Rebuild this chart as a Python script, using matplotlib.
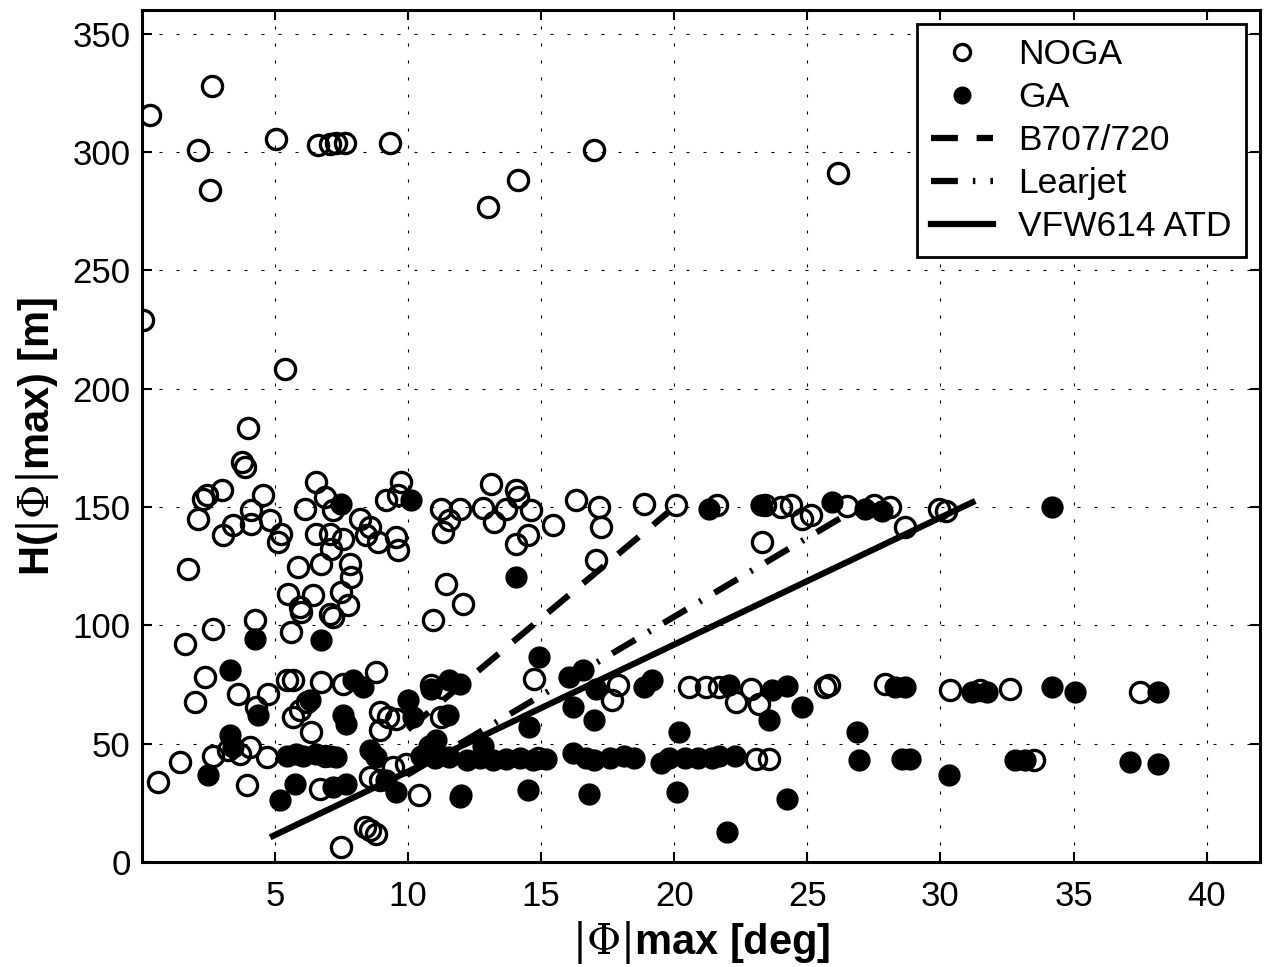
import matplotlib
matplotlib.use("Agg")
import matplotlib.pyplot as plt

plt.rcParams['font.family'] = ['Liberation Sans', 'DejaVu Sans']
plt.rcParams['mathtext.fontset'] = 'dejavuserif'

# NOGA (open circles)
noga_x = [0.05, 0.31, 2.64, 2.11, 2.56, 5.04, 6.62, 7.06, 7.29, 7.62, 9.31, 12.99, 14.15, 16.97, 26.15,
          5.37, 3.99, 3.75, 3.87,
          2.31, 2.44, 3.0, 2.12, 1.75, 4.12, 4.56, 3.06, 3.44, 4.12, 4.81, 5.25, 5.12, 6.12, 6.56, 6.87,
          7.18, 6.56, 7.06, 7.56, 7.12, 8.19, 8.56, 8.44, 8.87, 9.56, 9.62, 9.75, 9.19, 9.62, 11.25, 11.94,
          11.56, 11.31, 11.44, 12.06, 10.93, 5.87, 6.75, 7.81, 7.87, 5.5, 5.94, 6.0, 6.44, 7.5, 7.75, 7.06,
          7.18, 4.25, 5.62, 2.69, 1.62,
          13.12, 14.06, 14.12, 12.8, 13.69, 14.62, 13.25, 15.43, 14.06, 14.5, 16.31, 17.18, 17.25, 17.06,
          18.87, 20.06, 21.62, 23.4, 24.0, 24.37, 24.81, 25.12, 23.31, 26.5, 27.5, 28.1, 28.68, 29.93, 30.2,
          2.37, 2.0, 3.62, 4.75, 4.31, 5.44, 5.69, 5.94, 5.69, 6.19, 6.75, 7.56, 8.81, 8.94, 9.25, 9.56,
          8.94, 11.25, 10.87, 11.3, 14.75, 17.87, 17.68, 20.56, 21.18, 21.68, 22.31, 22.87, 23.18, 25.68,
          25.81, 27.93, 30.37, 31.5, 32.62, 37.5,
          2.69, 3.25, 3.69, 4.06, 1.44, 0.62, 3.94, 4.69, 6.37, 6.69, 7.5, 8.37, 8.56, 8.81, 8.56, 8.94,
          10.43, 9.44, 9.94, 23.06, 23.56, 33.5, 14.9, 6.9]
noga_y = [229, 315.5, 327.7, 301, 283.8, 305.7, 302.8, 303.2, 303.6, 303.6, 304, 276.6, 288, 300.8, 291,
          208.5, 183.2, 169, 166.9,
          153.5, 154.9, 157, 145.1, 124, 148.6, 155, 138, 142.3, 143, 144.4, 138.7, 135.2, 149.3, 160.5, 154.2,
          148.6, 138.7, 138.7, 136.6, 132.4, 145.1, 141.5, 138, 135.2, 137.3, 131.7, 160.5, 152.8, 154.9, 149.3, 149.3,
          144.4, 139.4, 117.6, 109.2, 102.1, 124.6, 126, 126, 120.4, 113.4, 107.7, 105.6, 112.7, 114.1, 108.5, 104.9,
          103.5, 102.1, 97.2, 98.6, 92,
          159.9, 157, 154.2, 149.4, 149.3, 148.6, 143.6, 142.2, 134.5, 138, 152.8, 150, 141.5, 127.5,
          151.4, 150.7, 150.7, 151, 150, 150.7, 145, 146.6, 135.3, 150.5, 150.7, 150, 141.5, 149.3, 148.3,
          78.2, 67.6, 71.1, 71.1, 65.5, 76.8, 76.8, 64.1, 61.3, 67.6, 76, 75.4, 80.3, 63.4, 61.3, 60.6,
          55.7, 61.3, 75, 73.5, 77.5, 74.7, 68.3, 74, 74, 74, 67.6, 73.3, 66.9, 74,
          74.7, 75.4, 72.6, 72.5, 73.3, 71.8,
          45, 47.2, 45.8, 48.6, 42.2, 33.8, 32.4, 44.4, 54.9, 31, 6.3, 14.8, 13.4, 12, 35.9, 34.5,
          28.2, 40.1, 41.6, 43.7, 43.7, 43, 44, 45]

# GA (filled circles)
ga_x = [7.5, 10.12, 14.06, 21.31, 23.25, 25.93, 27.18, 27.8, 34.18,
        4.25, 6.75, 3.31, 4.37, 6.31, 7.94, 8.31, 7.56, 7.69, 10.0, 10.19, 10.87, 11.56, 11.94, 11.5,
        3.31, 3.44, 2.5, 5.44, 5.81, 6.06, 6.56, 7.06, 7.31, 5.75, 5.19, 7.18, 7.69, 8.56, 8.81, 9.19,
        9.56, 11.06, 11.56, 11.94, 12.0,
        10.5, 11.0, 12.2, 12.7, 13.2, 13.7, 14.2, 14.7, 15.2, 10.8, 12.8, 16.2, 16.7, 17.0, 17.6, 18.1,
        18.5, 19.5, 19.8, 20.4, 20.9, 21.4, 21.7, 22.3,
        14.5, 16.8, 20.12, 24.25, 22.0,
        14.93, 16.06, 16.56, 17.06, 19.18, 18.87, 22.06, 23.68, 24.25, 24.81, 17.0, 23.56, 20.18, 26.87,
        14.56, 16.18, 28.31, 28.68, 26.93, 28.56, 28.87, 30.31, 31.18, 31.75, 34.18, 35.06, 38.18,
        32.81, 33.18, 37.12, 38.18]
ga_y = [151.4, 152.8, 120.4, 149.3, 150.7, 152.1, 149.3, 148.5, 149.8,
        94.4, 93.7, 81, 62, 68.3, 76.8, 74, 62, 58.5, 68.3, 61.3, 73.3, 76.8, 75.4, 62,
        53.5, 48.6, 36.6, 45, 45.5, 45, 45.5, 45, 44.5, 33.1, 26, 31.7, 33.1, 47.2, 44.4, 34.5,
        29.6, 51.4, 44.4, 27.5, 28.2,
        45, 44, 43, 44, 43, 43.5, 44, 43, 43.5, 49, 49, 46, 44, 43, 44, 45,
        44, 42, 44, 44, 44, 44, 45, 45,
        30.3, 28.9, 29.6, 26.8, 12.7,
        86.6, 78.2, 81, 73.3, 76.8, 74, 74.7, 72.5, 74.3, 65.5, 60, 60, 54.9, 54.9,
        57, 65.5, 74, 74, 43, 43.7, 43.7, 36.6, 72, 72, 74, 71.8, 71.8,
        43, 43, 42.2, 41.6]

# limit lines (|Phi|max [deg], H [m])
b707_x = [10.0, 19.8]
b707_y = [56, 148]
learjet_x = [10.0, 26.5]
learjet_y = [37, 147]
vfw614_x = [4.93, 31.2]
vfw614_y = [11, 152]

fig = plt.figure(figsize=(12.72, 9.67), dpi=100)
ax = fig.add_axes([141.7 / 1272, (967 - 862) / 967, (1260 - 141.7) / 1272, (862 - 10) / 967])

ax.plot(noga_x, noga_y, 'o', mfc='none', mec='black', mew=2.4, ms=14.5, label='NOGA', zorder=3)
ax.plot(ga_x, ga_y, 'o', mfc='black', mec='black', mew=1.0, ms=15, label='GA', zorder=3)
ax.plot(b707_x, b707_y, color='black', lw=4.5, ls=(0, (4.3, 3.0)), label='B707/720', zorder=4)
ax.plot(learjet_x, learjet_y, color='black', lw=4.5, ls=(0, (4.3, 2.4, 0.4, 2.4)),
        label='Learjet', zorder=4)
ax.plot(vfw614_x, vfw614_y, color='black', lw=4.5, ls='-', label='VFW614 ATD', zorder=4)

ax.set_xlim(0, 42)
ax.set_ylim(0, 360)
ax.set_xticks(range(5, 41, 5))
ax.set_yticks(range(0, 351, 50))
ax.grid(True, color='black', linestyle=(0, (2.7, 12.6)), linewidth=0.8)
ax.tick_params(direction='in', top=True, right=True, length=7, width=1.5, labelsize=25)
ax.tick_params(axis='x', pad=13)
ax.tick_params(axis='y', pad=8)
for s in ax.spines.values():
    s.set_linewidth(2.2)

ax.set_xlabel(r'$|\Phi|$max [deg]', fontsize=30, fontweight='bold', labelpad=4)
ax.set_ylabel(r'H($|\Phi|$max) [m]', fontsize=30, fontweight='bold', labelpad=8)

leg = ax.legend(loc='upper right', fontsize=25.5, frameon=True, fancybox=False, edgecolor='black',
                framealpha=1, borderaxespad=0.4, handlelength=1.75, handletextpad=0.7,
                labelspacing=0.28, markerscale=0.8, borderpad=0.4)
leg.get_frame().set_linewidth(2.0)

fig.savefig('out.png', dpi=100)
